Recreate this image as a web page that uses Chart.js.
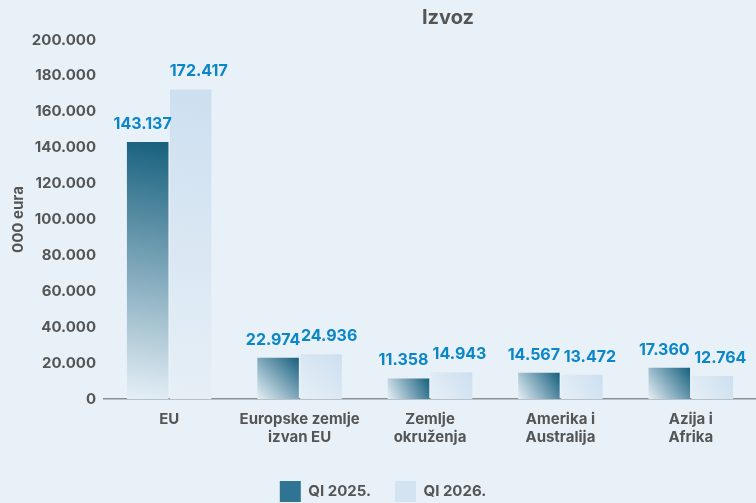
<!DOCTYPE html>
<html>
<head>
<meta charset="utf-8">
<script src="https://cdn.jsdelivr.net/npm/chart.js@4/dist/chart.umd.min.js"></script>
<style>
  html, body { margin: 0; padding: 0; background: #e8f1f8; overflow: hidden; }
  #wrap { width: 756px; height: 503px; }
</style>
</head>
<body>
<div id="wrap"><canvas id="izvozChart"></canvas></div>
<script>
// podaci (000 eura)
const chartTitle = "Izvoz";
const categories = [
    "EU",
    ["Europske zemlje", "izvan EU"],
    ["Zemlje", "okruženja"],
    ["Amerika i", "Australija"],
    ["Azija i", "Afrika"]
];
const seriesNames = ["QI 2025.", "QI 2026."];
const q1_2025 = [143137, 22974, 11358, 14567, 17360];
const q1_2026 = [172417, 24936, 14943, 13472, 12764];
const yTicks = [0, 20000, 40000, 60000, 80000, 100000, 120000, 140000, 160000, 180000, 200000];

const fmt = v => v.toLocaleString("de-DE");
const FONT = "Inter, 'DejaVu Sans', sans-serif";
const gradStops = [
    ["#e6eff6", "#17607e"],
    ["#e6eff6", "#cddff0"]
];
const labelShift = [-5, 8];

// gradijent po stupcu (od donjeg lijevog do gornjeg desnog kuta)
const barGradient = {
    id: "barGradient",
    beforeDatasetsDraw(chart) {
        const ctx = chart.ctx;
        chart.data.datasets.forEach((ds, di) => {
            chart.getDatasetMeta(di).data.forEach(bar => {
                const l = bar.x - bar.width / 2, r = bar.x + bar.width / 2;
                const g = ctx.createLinearGradient(l, bar.base, r, bar.y);
                g.addColorStop(0, gradStops[di][0]);
                g.addColorStop(1, gradStops[di][1]);
                bar.options = Object.assign({}, bar.options, { backgroundColor: g });
            });
        });
    }
};

// vrijednosti iznad stupaca + naslov
const valueLabels = {
    id: "valueLabels",
    afterDatasetsDraw(chart) {
        const ctx = chart.ctx;
        ctx.save();
        ctx.font = "bold 16px " + FONT;
        ctx.fillStyle = "#0b86c8";
        ctx.textAlign = "center";
        ctx.textBaseline = "middle";
        chart.data.datasets.forEach((ds, di) => {
            chart.getDatasetMeta(di).data.forEach((bar, i) => {
                ctx.fillText(fmt(ds.data[i]), bar.x + labelShift[di], bar.y - 18);
            });
        });
        ctx.font = "bold 20px " + FONT;
        ctx.fillStyle = "#555";
        ctx.fillText(chartTitle, 448, 18);
        ctx.restore();
    }
};

new Chart(document.getElementById("izvozChart"), {
    type: "bar",
    data: {
        labels: categories,
        datasets: [
            { label: seriesNames[0], data: q1_2025, backgroundColor: () => "#2f7492",
              categoryPercentage: 0.66, barPercentage: 0.965 },
            { label: seriesNames[1], data: q1_2026, backgroundColor: () => "#d3e3f2",
              categoryPercentage: 0.66, barPercentage: 0.965 }
        ]
    },
    options: {
        responsive: true,
        maintainAspectRatio: false,
        animation: false,
        layout: { padding: { top: 40, right: -10, bottom: -9 } },
        plugins: {
            legend: {
                position: "bottom",
                labels: {
                    color: "#555",
                    font: { family: FONT, size: 15, weight: "bold" },
                    boxWidth: 21,
                    boxHeight: 21,
                    padding: 24
                }
            },
            tooltip: { enabled: false }
        },
        scales: {
            x: {
                grid: { display: false, drawTicks: false },
                border: { display: true, color: "#8a8f94", width: 1.5 },
                ticks: {
                    color: "#555",
                    font: { family: FONT, size: 15, weight: "bold" },
                    padding: 11,
                    maxRotation: 0
                }
            },
            y: {
                min: 0,
                max: 200000,
                afterBuildTicks: axis => { axis.ticks = yTicks.map(v => ({ value: v })); },
                afterFit: axis => { axis.width = 104; },
                grid: { display: false, drawTicks: false },
                border: { display: false },
                ticks: {
                    color: "#555",
                    font: { family: FONT, size: 15, weight: "bold" },
                    padding: 8,
                    callback: v => fmt(v)
                },
                title: {
                    display: true,
                    text: "000 eura",
                    color: "#555",
                    font: { family: FONT, size: 15, weight: "bold" },
                    padding: { top: 9, bottom: 8 }
                }
            }
        }
    },
    plugins: [barGradient, valueLabels]
});
</script>
</body>
</html>
